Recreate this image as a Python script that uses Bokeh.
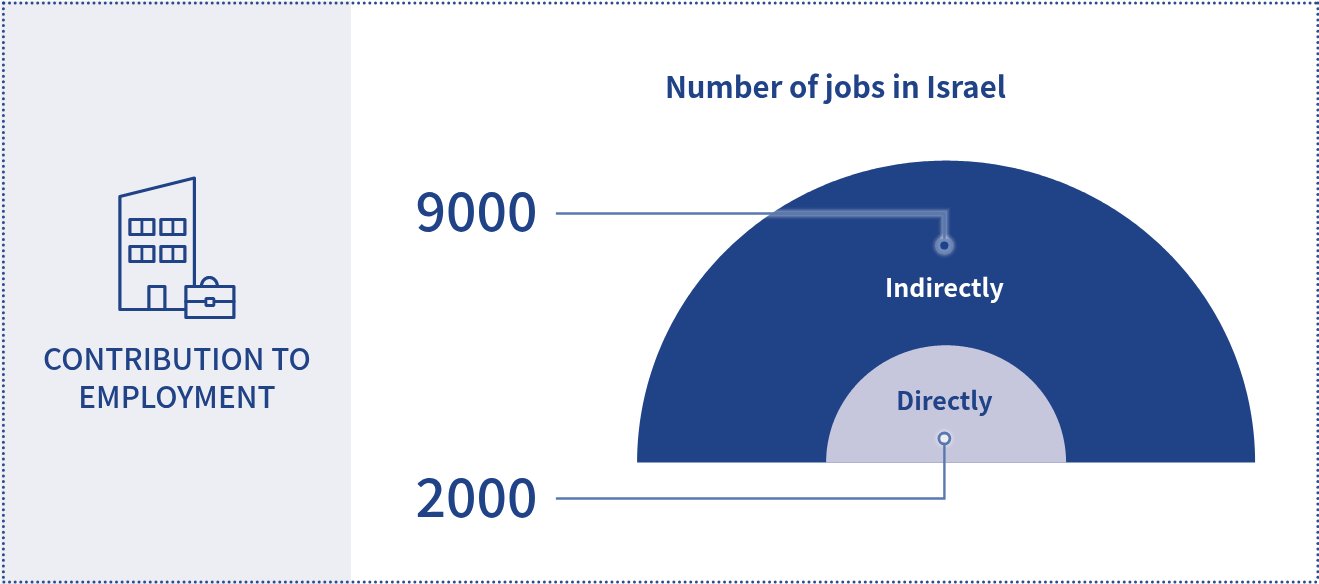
import numpy as np
from bokeh.plotting import figure
from bokeh.models import Range1d
from bokeh.embed import file_html
from bokeh.resources import INLINE
from bokeh.core.properties import value

categories = ["Indirectly", "Directly"]
jobs = [9000, 2000]
jobs_labels = ["9000", "2000"]
title = "Number of jobs in Israel"
panel_lines = ["CONTRIBUTION TO", "EMPLOYMENT"]

W, H = 1319, 584
DARK = "#204287"
LIGHT = "#c6c7dc"
PANEL = "#eceef4"
LEAD = "#5a78b0"
FONT = value("Noto Sans CJK KR")
FONT_MED = value("Noto Sans CJK KR Medium")

p = figure(width=W, height=H, output_backend="svg", toolbar_location=None,
           x_range=Range1d(0.6, W + 0.6), y_range=Range1d(H, 0),
           min_border=0, outline_line_color=None, background_fill_color="white")
p.axis.visible = False
p.grid.visible = False
p.styles = {"position": "fixed", "left": "0px", "top": "0px"}

# left panel
p.quad(left=[0], right=[351], top=[0], bottom=[H], fill_color=PANEL, line_color=None)

# dotted frame
step = 5.63
hx = np.arange(4, 1318, step)
vy = np.arange(2.5, 582, step)
dx = np.concatenate([hx, hx, np.full(vy.size, 3.5), np.full(vy.size, 1318)])
dy = np.concatenate([np.full(hx.size, 2.5), np.full(hx.size, 581.5), vy, vy])
p.scatter(dx, dy, marker="circle", size=3, fill_color=DARK, line_color=None, fill_alpha=0.95)

# half discs driven by the values
cx, base = 946.2, 462
R_MAX, EXP, ASPECT = 309, 0.629, 0.977
theta = np.linspace(np.pi, 0, 361)
for v, col in zip(jobs, [DARK, LIGHT]):
    r = R_MAX * (v / max(jobs)) ** EXP
    p.patch(cx + r * np.cos(theta), base - ASPECT * r * np.sin(theta), fill_color=col, line_color=None)

# leaders
top_x, top_y = [556, 944.5, 944.5], [213, 213, 245]
bot_x, bot_y = [944.5, 944.5, 556], [438, 498, 498]
for w, a in [(12, 0.06), (9, 0.1), (6, 0.22)]:
    p.line(top_x, top_y, line_color="white", line_width=w, line_alpha=a, line_join="miter")
    p.circle([944.5], [245], radius=6.5 + w / 2, fill_color="white", fill_alpha=a, line_color=None)
    p.circle([944.5], [438], radius=5 + w / 2, fill_color="white", fill_alpha=a, line_color=None)
p.line(top_x, top_y, line_color=LEAD, line_width=2.4, line_join="miter")
p.line(bot_x, bot_y, line_color=LEAD, line_width=2.4, line_join="miter")
p.circle([944.5], [245], radius=5.5, fill_color=DARK, line_color="#6f8cc0", line_width=2.8)
p.circle([944.5], [438], radius=5.5, fill_color=PANEL, line_color=LEAD, line_width=2.8)

# building icon
LW = 3.2
ic = dict(line_color=DARK, line_width=LW, line_join="round", line_cap="round")
p.line([194.5, 194.5, 120, 120, 186], [285, 177.5, 196, 309, 309], **ic)
for wx in (130, 161):
    for wy in (219, 246):
        p.quad(left=[wx], right=[wx + 24], top=[wy], bottom=[wy + 15], fill_color=None, line_color=DARK, line_width=LW, line_join="round")
        p.line([wx + 12, wx + 12], [wy, wy + 15], line_color=DARK, line_width=2.8)
p.line([149, 149, 165, 165], [309, 286, 286, 309], **ic)
p.quad(left=[186], right=[234], top=[286], bottom=[317], fill_color=PANEL, line_color=DARK, line_width=LW, line_join="round")
p.line([186, 206], [301, 301], **ic)
p.line([214, 234], [301, 301], **ic)
p.quad(left=[206], right=[214], top=[298], bottom=[305], fill_color=PANEL, line_color=DARK, line_width=2.8)
t = np.linspace(np.pi, 0, 40)
p.line(209.5 + 8 * np.cos(t), 286 - 9 * np.sin(t), **ic)

# texts
al = dict(text_align="center", text_baseline="middle")
p.text([835.5], [84.5], text=[title], text_color=DARK, text_font_size="29.3px", text_font_style="bold", text_font=FONT, **al)
p.text([177, 177], [357, 395], text=panel_lines, text_color=DARK, text_font_size="29.6px", text_font=FONT_MED, **al)
p.text([476.5, 476.5], [211, 496.5], text=jobs_labels, text_color=DARK, text_font_size="53.5px", text_font=FONT_MED, **al)
p.text([944.5], [285], text=[categories[0]], text_color="white", text_font_size="25px", text_font_style="bold", text_font=FONT, **al)
p.text([944.5], [398], text=[categories[1]], text_color=DARK, text_font_size="25px", text_font_style="bold", text_font=FONT, **al)

open("out.html", "w").write(file_html(p, INLINE))
